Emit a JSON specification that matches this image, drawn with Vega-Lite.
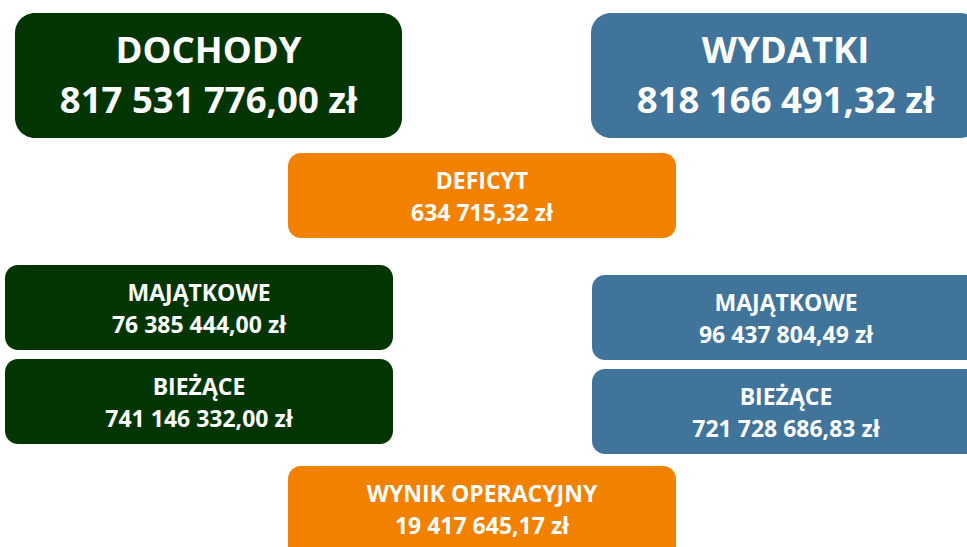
{
  "$schema": "https://vega.github.io/schema/vega-lite/v6.json",
  "width": 967,
  "height": 547,
  "padding": 0,
  "autosize": {"type": "fit", "contains": "padding"},
  "background": "white",
  "config": {"view": {"stroke": null}},
  "data": {
    "values": [
      {"group": "dochody", "level": "main", "x1": 15, "x2": 402, "y1": 13, "y2": 138, "label": "DOCHODY", "value": "817 531 776,00 zł"},
      {"group": "wydatki", "level": "main", "x1": 591, "x2": 980, "y1": 13, "y2": 138, "label": "WYDATKI", "value": "818 166 491,32 zł"},
      {"group": "saldo", "level": "sub", "x1": 288, "x2": 676, "y1": 153, "y2": 238, "label": "DEFICYT", "value": "634 715,32 zł"},
      {"group": "dochody", "level": "sub", "x1": 5, "x2": 393, "y1": 265, "y2": 350, "label": "MAJĄTKOWE", "value": "76 385 444,00 zł"},
      {"group": "dochody", "level": "sub", "x1": 5, "x2": 393, "y1": 359, "y2": 444, "label": "BIEŻĄCE", "value": "741 146 332,00 zł"},
      {"group": "wydatki", "level": "sub", "x1": 592, "x2": 980, "y1": 275, "y2": 360, "label": "MAJĄTKOWE", "value": "96 437 804,49 zł"},
      {"group": "wydatki", "level": "sub", "x1": 592, "x2": 980, "y1": 369, "y2": 454, "label": "BIEŻĄCE", "value": "721 728 686,83 zł"},
      {"group": "saldo", "level": "sub", "x1": 288, "x2": 676, "y1": 466, "y2": 560, "label": "WYNIK OPERACYJNY", "value": "19 417 645,17 zł"}
    ]
  },
  "transform": [{"calculate": "(datum.x1 + datum.x2) / 2", "as": "cx"}],
  "encoding": {
    "x": {"field": "x1", "type": "quantitative", "scale": {"domain": [0, 967], "nice": false, "zero": false}, "axis": null},
    "y": {"field": "y1", "type": "quantitative", "scale": {"domain": [0, 547], "nice": false, "zero": false, "reverse": true}, "axis": null}
  },
  "layer": [
    {
      "transform": [{"filter": "datum.level == 'main'"}],
      "mark": {"type": "rect", "cornerRadius": 20, "clip": true},
      "encoding": {
        "x2": {"field": "x2"},
        "y2": {"field": "y2"},
        "color": {"field": "group", "type": "nominal", "scale": {"domain": ["dochody", "wydatki", "saldo"], "range": ["#033503", "#41749b", "#f28100"]}, "legend": null}
      }
    },
    {
      "transform": [{"filter": "datum.level == 'sub'"}],
      "mark": {"type": "rect", "cornerRadius": 13, "clip": true},
      "encoding": {
        "x2": {"field": "x2"},
        "y2": {"field": "y2"},
        "color": {"field": "group", "type": "nominal", "scale": {"domain": ["dochody", "wydatki", "saldo"], "range": ["#033503", "#41749b", "#f28100"]}, "legend": null}
      }
    },
    {
      "transform": [{"filter": "datum.level == 'main'"}],
      "mark": {"type": "text", "font": "Open Sans", "fontWeight": "bold", "fontSize": 36.5, "color": "white", "baseline": "middle", "align": "center", "dy": 38.5},
      "encoding": {"x": {"field": "cx", "type": "quantitative"}, "text": {"field": "label"}}
    },
    {
      "transform": [{"filter": "datum.level == 'main'"}],
      "mark": {"type": "text", "font": "Open Sans", "fontWeight": "bold", "fontSize": 36.5, "color": "white", "baseline": "middle", "align": "center", "dy": 88.5},
      "encoding": {"x": {"field": "cx", "type": "quantitative"}, "text": {"field": "value"}}
    },
    {
      "transform": [{"filter": "datum.level == 'sub'"}],
      "mark": {"type": "text", "font": "Open Sans", "fontWeight": "bold", "fontSize": 23, "color": "white", "baseline": "middle", "align": "center", "dy": 29},
      "encoding": {"x": {"field": "cx", "type": "quantitative"}, "text": {"field": "label"}}
    },
    {
      "transform": [{"filter": "datum.level == 'sub'"}],
      "mark": {"type": "text", "font": "Open Sans", "fontWeight": "bold", "fontSize": 23, "color": "white", "baseline": "middle", "align": "center", "dy": 61},
      "encoding": {"x": {"field": "cx", "type": "quantitative"}, "text": {"field": "value"}}
    }
  ]
}
